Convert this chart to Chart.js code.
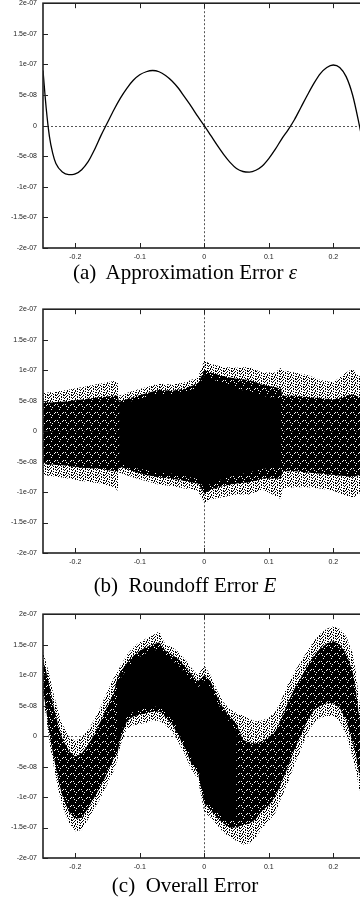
<!DOCTYPE html>
<html><head><meta charset="utf-8">
<script src="https://cdn.jsdelivr.net/npm/chart.js@4/dist/chart.umd.min.js"></script>
<style>
html,body{margin:0;padding:0;background:#fff;overflow:hidden;width:360px;height:901px;position:relative}
.p{position:absolute;left:0;width:372px}
.cap{position:absolute;left:0;width:370px;text-align:center;font-family:"Liberation Serif","DejaVu Serif",serif;font-size:21px;line-height:21px;color:#000;white-space:nowrap}
.cap i{font-style:italic}
</style></head><body>
<div class="p" style="top:-7px;height:275px"><canvas id="ca"></canvas></div>
<div class="cap" style="top:262px">(a)&nbsp; Approximation Error <i>ε</i></div>
<div class="p" style="top:299px;height:274px"><canvas id="cb"></canvas></div>
<div class="cap" style="top:575px">(b)&nbsp; Roundoff Error <i>E</i></div>
<div class="p" style="top:604px;height:274px"><canvas id="cc"></canvas></div>
<div class="cap" style="top:875px">(c)&nbsp; Overall Error</div>
<script>
// y values are in units of 1e-8
const X_TICKS=[-0.2,-0.1,0,0.1,0.2];
const X_TICK_LABELS=["-0.2","-0.1","0","0.1","0.2"];
const Y_TICKS=[-20,-15,-10,-5,0,5,10,15,20];
const Y_TICK_LABELS=["-2e-07","-1.5e-07","-1e-07","-5e-08","0","5e-08","1e-07","1.5e-07","2e-07"];

// (a) approximation error curve
const A_X=[-0.25,-0.245,-0.24,-0.235,-0.23,-0.22,-0.21,-0.205,-0.2,-0.19,-0.18,-0.17,-0.16,-0.15,-0.14,-0.13,-0.12,-0.11,-0.1,-0.09,-0.08,-0.07,-0.06,-0.05,-0.04,-0.03,-0.02,-0.01,0,0.01,0.02,0.03,0.04,0.05,0.06,0.07,0.08,0.09,0.1,0.11,0.12,0.13,0.14,0.15,0.16,0.17,0.18,0.19,0.2,0.21,0.22,0.23,0.24,0.25];
const A_Y=[9.0,2.8,-1.8,-4.5,-6.2,-7.6,-8.0,-8.0,-7.9,-7.2,-5.9,-3.9,-1.6,0.5,2.6,4.5,6.1,7.4,8.3,8.8,9.0,8.8,8.2,7.3,6.1,4.6,3.1,1.5,0,-1.6,-3.2,-4.7,-6.0,-7.0,-7.5,-7.6,-7.3,-6.6,-5.4,-3.9,-2.2,-0.7,1.0,3.0,5.0,6.9,8.5,9.5,9.9,9.5,8.0,5.0,0.3,-5.0];

// (b) roundoff error: outer envelope of the point cloud, its core, and the solid part
const B_X=[-0.25,-0.22,-0.19,-0.16,-0.14,-0.134,-0.132,-0.11,-0.09,-0.07,-0.05,-0.03,-0.01,0,0.01,0.03,0.05,0.07,0.09,0.11,0.119,0.121,0.14,0.16,0.18,0.2,0.22,0.23,0.24,0.25];
const B_HI=[6.2,6.6,7.2,7.8,8.2,8.0,5.8,6.6,7.2,7.8,7.6,8.0,8.8,11.6,11.0,10.5,10.4,10.5,9.6,9.6,10.4,10.0,9.6,9.2,8.4,8.0,9.6,10.2,9.0,9.0];
const B_LO=[-7.2,-7.6,-8.2,-8.6,-9.2,-9.8,-6.8,-7.6,-8.2,-8.8,-9.0,-9.4,-9.8,-11.8,-11.2,-10.8,-10.4,-10.4,-9.6,-10.6,-11.2,-9.4,-9.2,-9.2,-9.4,-9.8,-10.6,-11.0,-10.2,-10.2];
const B_CORE_HI=[4.6,4.8,5.2,5.6,5.8,5.8,4.8,5.6,6.2,6.8,6.6,7.0,7.8,10.0,9.6,9.0,8.6,8.4,7.6,7.2,7.0,5.8,5.8,5.6,5.4,5.2,5.8,6.0,5.6,5.6];
const B_CORE_LO=[-5.4,-5.6,-6.0,-6.2,-6.6,-6.8,-5.8,-6.6,-7.2,-7.6,-7.8,-8.2,-8.6,-10.2,-9.6,-9.0,-8.6,-8.4,-7.8,-7.8,-7.8,-6.6,-6.6,-6.8,-7.0,-7.2,-7.4,-7.6,-7.2,-7.2];
const B_SOLID_X=[-0.132,-0.11,-0.09,-0.07,-0.05,-0.03,-0.01,0,0.01,0.03,0.05,0.07,0.09,0.11,0.119];
const B_SOLID_HI=[4.4,5.0,5.6,6.0,6.0,6.4,7.0,9.2,8.6,7.8,7.0,6.4,5.8,5.4,5.2];
const B_SOLID_LO=[-5.2,-6.0,-6.4,-6.8,-7.0,-7.4,-7.8,-9.4,-8.6,-7.8,-7.2,-6.8,-6.2,-6.0,-5.8];

// (c) overall error: outer envelope, core and solid part
const C_X=[-0.25,-0.245,-0.24,-0.235,-0.23,-0.225,-0.22,-0.21,-0.2,-0.19,-0.18,-0.17,-0.16,-0.15,-0.14,-0.135,-0.13,-0.12,-0.11,-0.1,-0.09,-0.08,-0.07,-0.065,-0.06,-0.05,-0.04,-0.03,-0.02,-0.01,0,0.01,0.02,0.03,0.04,0.05,0.06,0.07,0.08,0.09,0.1,0.11,0.12,0.13,0.14,0.15,0.16,0.17,0.18,0.19,0.2,0.21,0.22,0.23,0.235,0.24,0.245,0.25];
const C_HI=[13.8,12.0,10.0,7.5,5.5,3.5,2.0,0,-0.8,-0.2,1.0,2.8,5.0,7.4,9.6,10.5,11.5,13.3,14.6,15.4,16.0,16.5,17.2,16.0,15.0,14.6,13.8,12.6,11.2,10.0,11.6,10.0,7.5,5.5,4.4,3.8,3.4,2.8,2.4,2.6,3.0,4.0,6.0,8.6,10.6,12.2,14.0,15.6,16.8,17.6,18.0,17.6,16.4,13.6,10.5,6.0,3.0,0];
const C_LO=[6.6,3.0,-1.0,-4.0,-6.8,-9.5,-11.5,-14.2,-15.6,-15.4,-13.6,-11.8,-10.0,-7.8,-5.6,-4.0,-1.5,1.2,1.8,2.0,2.2,2.5,2.5,2.2,1.8,0.8,-1.0,-3.0,-5.5,-7.0,-12.4,-13.4,-14.6,-15.8,-16.6,-17.2,-17.8,-17.6,-16.6,-15.0,-14.0,-12.6,-10.0,-7.6,-4.6,-2.2,0.5,2.2,3.0,3.3,3.3,2.4,0.2,-3.5,-5.5,-8.6,-9.8,-10.0];
const C_CORE_HI=[12.6,10.6,8.2,5.6,3.4,1.2,-0.4,-2.4,-3.4,-2.8,-1.4,0.4,2.6,5.0,7.2,9.5,10.5,12.0,13.2,14.0,14.6,15.0,15.4,14.8,14.0,13.4,12.6,11.4,10.2,9.0,10.0,9.0,6.5,4.5,3.2,2.0,-0.6,-1.0,-1.2,-0.8,-0.2,0.8,3.0,5.6,7.8,9.6,11.6,13.2,14.4,15.2,15.6,15.0,13.6,10.6,7.6,3.4,0.6,-2.0];
const C_CORE_LO=[7.6,4.2,0.4,-2.6,-5.2,-7.8,-9.8,-12.4,-13.6,-13.4,-11.8,-10.0,-8.2,-6.0,-3.6,-3.0,-0.5,2.4,3.2,3.5,3.8,4.0,4.0,3.8,3.0,2.0,0,-2.0,-4.5,-6.0,-11.0,-12.2,-13.4,-14.4,-15.0,-15.0,-14.6,-14.4,-13.6,-12.2,-11.4,-10.0,-7.6,-5.0,-2.2,0.2,2.6,4.2,5.0,5.4,5.4,4.6,2.6,-1.0,-3.0,-6.2,-7.6,-8.2];
const C_SOLID_X=[-0.135,-0.13,-0.12,-0.11,-0.1,-0.09,-0.08,-0.07,-0.065,-0.06,-0.05,-0.04,-0.03,-0.02,-0.01,0,0.01,0.02,0.03,0.04,0.05];
const C_SOLID_HI=[8.0,9.4,11.0,12.2,13.0,13.6,14.0,14.2,13.6,13.0,12.4,11.6,10.4,9.2,8.0,9.0,8.0,5.6,3.6,2.2,0.8];
const C_SOLID_LO=[-2.0,0.4,3.2,4.0,4.4,4.6,4.8,4.8,4.6,3.8,2.8,1.0,-1.0,-3.6,-5.0,-10.0,-11.2,-12.4,-13.4,-14.0,-13.6];

const pts=(xs,ys)=>xs.map((x,i)=>({x,y:ys[i]}));
const TICK_FONT={family:'"Liberation Sans",Arial,sans-serif',size:7};

// dot textures for the scattered parts of the clouds
function dots(rows){
  const c=document.createElement("canvas");c.width=rows[0].length;c.height=rows.length;
  const g=c.getContext("2d");g.fillStyle="#000";
  rows.forEach((r,j)=>[...r].forEach((ch,i)=>{if(ch==="#")g.fillRect(i,j,1,1);}));
  return g.createPattern(c,"repeat");
}
const SPARSE=dots(["#..#...#","..#..#..",".#...#.#","#..#....","...#.#..","#.#....#","..#.#...",".#...#.#"]);
const DENSE=dots(["###.####","#.#####.","######.#","##.#####","####.###",".######.","###.####","#####.##"]);

const frame={id:"frame",
  beforeDatasetsDraw(c){
    const {ctx,chartArea:a,scales:{x,y}}=c;
    const x0=Math.round(x.getPixelForValue(0))+.5,y0=Math.round(y.getPixelForValue(0))+.5;
    ctx.save();ctx.strokeStyle="#555";ctx.lineWidth=1;ctx.setLineDash([2,2]);
    ctx.beginPath();ctx.moveTo(x0,a.top);ctx.lineTo(x0,a.bottom);ctx.moveTo(a.left,y0);ctx.lineTo(a.right,y0);ctx.stroke();
    ctx.restore();
  },
  afterDraw(c){
    const {ctx,chartArea:a,scales:{x,y}}=c;
    ctx.save();ctx.strokeStyle="#222";ctx.lineWidth=1;ctx.beginPath();
    x.ticks.forEach(t=>{const p=Math.round(x.getPixelForValue(t.value))+.5;
      ctx.moveTo(p,a.bottom);ctx.lineTo(p,a.bottom-5);ctx.moveTo(p,a.top);ctx.lineTo(p,a.top+5);});
    y.ticks.forEach(t=>{const p=Math.round(y.getPixelForValue(t.value))+.5;
      ctx.moveTo(a.left,p);ctx.lineTo(a.left+5,p);ctx.moveTo(a.right,p);ctx.lineTo(a.right-5,p);});
    ctx.stroke();
    ctx.lineWidth=1.6;ctx.strokeRect(a.left,a.top,a.right-a.left,a.bottom-a.top);
    ctx.restore();
  }};

function opts(){
  return {responsive:true,maintainAspectRatio:false,animation:false,
    layout:{padding:{top:10,bottom:4,left:0,right:6.5}},
    elements:{point:{radius:0}},
    plugins:{legend:{display:false},tooltip:{enabled:false}},
    scales:{
      x:{type:"linear",min:-0.25,max:0.25,grid:{display:false,drawTicks:false},border:{display:false},
        afterBuildTicks:s=>{s.ticks=X_TICKS.map(v=>({value:v}));},
        afterFit:s=>{s.height=16;},
        ticks:{font:TICK_FONT,color:"#222",padding:5,maxRotation:0,autoSkip:false,callback:(v,i)=>X_TICK_LABELS[i]}},
      y:{min:-20,max:20,grid:{display:false,drawTicks:false},border:{display:false},
        afterBuildTicks:s=>{s.ticks=Y_TICKS.map(v=>({value:v}));},
        afterFit:s=>{s.width=43;},
        ticks:{font:TICK_FONT,color:"#222",padding:6,autoSkip:false,callback:(v,i)=>Y_TICK_LABELS[i]}}
    }};
}

function band(xs,hi,lo,fillStyle){
  return [
    {data:pts(xs,hi),showLine:true,borderWidth:0,fill:"+1",backgroundColor:fillStyle,tension:0},
    {data:pts(xs,lo),showLine:true,borderWidth:0,fill:false,tension:0}
  ];
}

new Chart(document.getElementById("ca"),{type:"scatter",
  data:{datasets:[{data:pts(A_X,A_Y),showLine:true,borderColor:"#000",borderWidth:1.3,cubicInterpolationMode:"monotone"}]},
  options:opts(),plugins:[frame]});

new Chart(document.getElementById("cb"),{type:"scatter",
  data:{datasets:[...band(B_SOLID_X,B_SOLID_HI,B_SOLID_LO,"#000"),...band(B_X,B_CORE_HI,B_CORE_LO,DENSE),...band(B_X,B_HI,B_LO,SPARSE)]},
  options:opts(),plugins:[frame]});

new Chart(document.getElementById("cc"),{type:"scatter",
  data:{datasets:[...band(C_SOLID_X,C_SOLID_HI,C_SOLID_LO,"#000"),...band(C_X,C_CORE_HI,C_CORE_LO,DENSE),...band(C_X,C_HI,C_LO,SPARSE)]},
  options:opts(),plugins:[frame]});
</script>
</body></html>
